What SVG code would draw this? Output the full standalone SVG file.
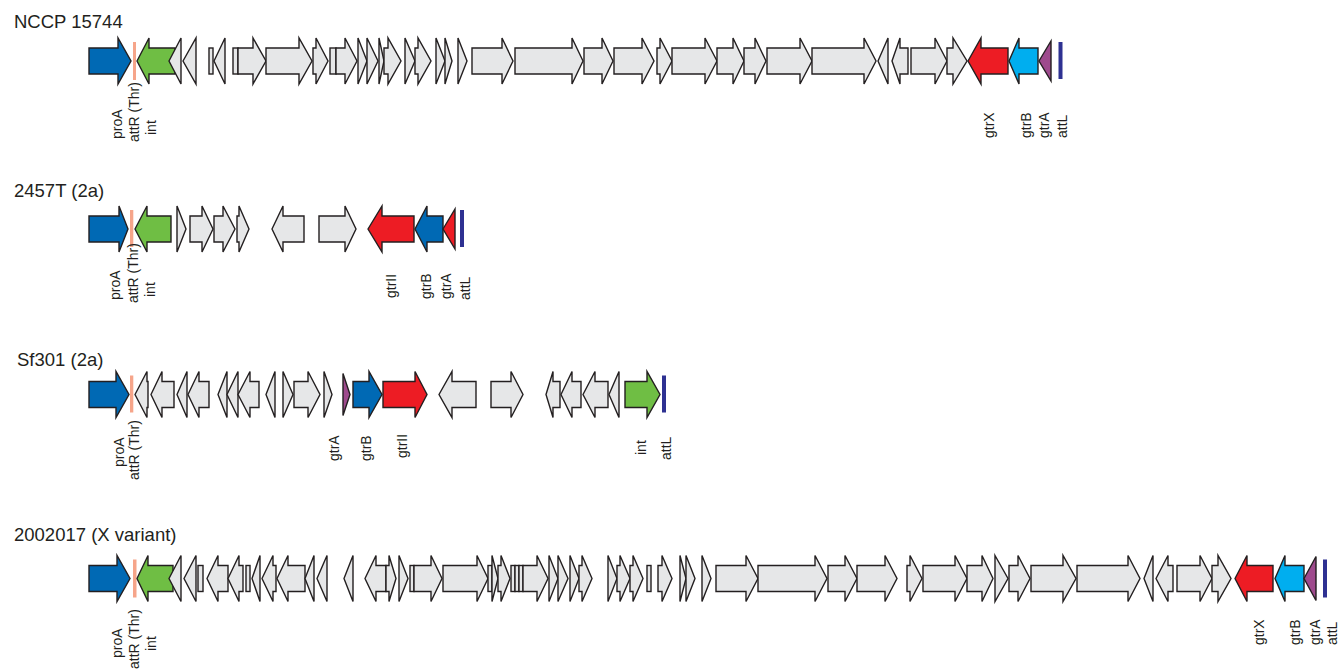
<svg xmlns="http://www.w3.org/2000/svg" width="1338" height="671" viewBox="0 0 1338 671">
<style>
  .g{fill:#e6e7e8;stroke:#231f20;stroke-width:1.4;stroke-linejoin:miter}
  .blue{fill:#0069b4;stroke:#231f20;stroke-width:1.4}
  .green{fill:#6fbe44;stroke:#231f20;stroke-width:1.4}
  .red{fill:#ed1c24;stroke:#231f20;stroke-width:1.4}
  .cyan{fill:#00aeef;stroke:#231f20;stroke-width:1.4}
  .purple{fill:#9e4a8d;stroke:#231f20;stroke-width:1.4}
  .att{fill:#f6a58a}
  .attl{fill:#2e3192}
  .title{font-family:"Liberation Sans",Arial,sans-serif;font-size:18.5px;fill:#231f20}
  .lab{font-family:"Liberation Sans",Arial,sans-serif;font-size:14px;fill:#231f20}
</style>

<!-- NCCP 15744 -->
<g id="nccp15744">
  <text class="title" x="14" y="28">NCCP 15744</text>
  <g transform="translate(0,61)">
    <polygon class="blue" points="89,-13 118,-13 118,-23 131,0 118,23 118,13 89,13"/>
    <rect class="att" x="133" y="-19" width="3" height="38"/>
    <polygon class="green" points="137,0 149,-23 149,-13 175,-13 175,13 149,13 149,23"/>
    <polygon class="g" points="169,0 181,-23 181,23"/>
    <polygon class="g" points="183,0 196,-23 196,23"/>
    <rect class="g" x="209" y="-13" width="4" height="26"/>
    <polygon class="g" points="214,0 225,-23 225,23"/>
    <rect class="g" x="233" y="-13" width="5" height="26"/>
    <polygon class="g" points="238,-13 253,-13 253,-23 266,0 253,23 253,13 238,13"/>
    <polygon class="g" points="266,-13 299,-13 299,-23 312,0 299,23 299,13 266,13"/>
    <polygon class="g" points="313,-13 316,-13 316,-23 328,0 316,23 316,13 313,13"/>
    <rect class="g" x="330" y="-13" width="6" height="26"/>
    <polygon class="g" points="336,-13 345,-13 345,-23 357,0 345,23 345,13 336,13"/>
    <polygon class="g" points="358,-23 367,0 358,23"/>
    <polygon class="g" points="367,-23 378,0 367,23"/>
    <polygon class="g" points="379,-23 384,0 379,23"/>
    <polygon class="g" points="384,-13 388,-13 388,-23 401,0 388,23 388,13 384,13"/>
    <polygon class="g" points="405,-23 415,0 405,23"/>
    <polygon class="g" points="415,-13 418,-13 418,-23 431,0 418,23 418,13 415,13"/>
    <polygon class="g" points="436,-23 445,0 436,23"/>
    <polygon class="g" points="445,-23 452,0 445,23"/>
    <polygon class="g" points="458,-23 467,0 458,23"/>
    <polygon class="g" points="472,-13 502,-13 502,-23 513,0 502,23 502,13 472,13"/>
    <polygon class="g" points="515,-13 572,-13 572,-23 583,0 572,23 572,13 515,13"/>
    <polygon class="g" points="584,-13 602,-13 602,-23 613,0 602,23 602,13 584,13"/>
    <polygon class="g" points="614,-13 642,-13 642,-23 654,0 642,23 642,13 614,13"/>
    <polygon class="g" points="657,-13 660,-13 660,-23 672,0 660,23 660,13 657,13"/>
    <polygon class="g" points="672,-13 705,-13 705,-23 717,0 705,23 705,13 672,13"/>
    <polygon class="g" points="717,-13 733,-13 733,-23 744,0 733,23 733,13 717,13"/>
    <polygon class="g" points="744,-13 755,-13 755,-23 766,0 755,23 755,13 744,13"/>
    <polygon class="g" points="767,-13 800,-13 800,-23 812,0 800,23 800,13 767,13"/>
    <polygon class="g" points="812,-13 864,-13 864,-23 876,0 864,23 864,13 812,13"/>
    <polygon class="g" points="878,0 888,-23 888,23"/>
    <polygon class="g" points="892,0 900,-23 900,-13 908,-13 908,13 900,13 900,23"/>
    <polygon class="g" points="911,-13 935,-13 935,-23 947,0 935,23 935,13 911,13"/>
    <polygon class="g" points="947,-13 953,-13 953,-23 967,0 953,23 953,13 947,13"/>
    <polygon class="red" points="968,0 981,-23 981,-13 1008,-13 1008,13 981,13 981,23"/>
    <polygon class="cyan" points="1009,0 1019,-23 1019,-13 1038,-13 1038,13 1019,13 1019,23"/>
    <polygon class="purple" points="1039,0 1051,-20 1051,20"/>
    <rect class="attl" x="1058.5" y="-19" width="4" height="37"/>
  </g>
  <text class="lab" transform="translate(122,139) rotate(-90)">proA</text>
  <text class="lab" transform="translate(139,142) rotate(-90)">attR (Thr)</text>
  <text class="lab" transform="translate(156,135) rotate(-90)">int</text>
  <text class="lab" transform="translate(994,138) rotate(-90)">gtrX</text>
  <text class="lab" transform="translate(1031,138) rotate(-90)">gtrB</text>
  <text class="lab" transform="translate(1049,138) rotate(-90)">gtrA</text>
  <text class="lab" transform="translate(1066.5,138) rotate(-90)">attL</text>
</g>

<!-- 2457T (2a) -->
<g id="strain2457T">
  <text class="title" x="14" y="197">2457T (2a)</text>
  <g transform="translate(0,229)">
    <polygon class="blue" points="89,-13 119,-13 119,-23 128,0 119,23 119,13 89,13"/>
    <rect class="att" x="130" y="-19" width="3.3" height="37"/>
    <polygon class="green" points="135,0 147,-23 147,-13 171,-13 171,13 147,13 147,23"/>
    <polygon class="g" points="177,-23 186,0 177,23"/>
    <polygon class="g" points="190,-13 202,-13 202,-23 213,0 202,23 202,13 190,13"/>
    <polygon class="g" points="214,-13 223,-13 223,-23 235,0 223,23 223,13 214,13"/>
    <polygon class="g" points="237,-13 239,-13 239,-23 249,0 239,23 239,13 237,13"/>
    <polygon class="g" points="272,0 283,-23 283,-13 304,-13 304,13 283,13 283,23"/>
    <polygon class="g" points="319,-13 345,-13 345,-23 356,0 345,23 345,13 319,13"/>
    <polygon class="red" points="368,0 382,-23 382,-13 414,-13 414,13 382,13 382,23"/>
    <polygon class="blue" points="415,0 427,-23 427,-13 443,-13 443,13 427,13 427,23"/>
    <polygon class="red" points="443,0 455,-20 455,20"/>
    <rect class="attl" x="460" y="-19" width="4" height="37"/>
  </g>
  <text class="lab" transform="translate(120,300) rotate(-90)">proA</text>
  <text class="lab" transform="translate(138,303) rotate(-90)">attR (Thr)</text>
  <text class="lab" transform="translate(155,297) rotate(-90)">int</text>
  <text class="lab" transform="translate(396,298) rotate(-90)">gtrII</text>
  <text class="lab" transform="translate(431,299) rotate(-90)">gtrB</text>
  <text class="lab" transform="translate(451,299) rotate(-90)">gtrA</text>
  <text class="lab" transform="translate(469.5,300) rotate(-90)">attL</text>
</g>

<!-- Sf301 (2a) -->
<g id="sf301">
  <text class="title" x="17" y="366">Sf301 (2a)</text>
  <g transform="translate(0,394.5)">
    <polygon class="blue" points="89,-13 116,-13 116,-23 129,0 116,23 116,13 89,13"/>
    <rect class="att" x="130" y="-19" width="3.3" height="37"/>
    <polygon class="g" points="135,0 147,-23 147,-13 148,-13 148,13 147,13 147,23"/>
    <polygon class="g" points="151,0 162,-23 162,-13 174,-13 174,13 162,13 162,23"/>
    <polygon class="g" points="177,0 187,-23 187,23"/>
    <polygon class="g" points="188,0 199,-23 199,-13 209,-13 209,13 199,13 199,23"/>
    <polygon class="g" points="218,0 227,-23 227,23"/>
    <polygon class="g" points="227,0 238,-23 238,23"/>
    <polygon class="g" points="238,0 250,-23 250,-13 259,-13 259,13 250,13 250,23"/>
    <polygon class="g" points="266,0 275,-23 275,23"/>
    <polygon class="g" points="283,-23 293,0 283,23"/>
    <polygon class="g" points="294,-13 308,-13 308,-23 320,0 308,23 308,13 294,13"/>
    <polygon class="g" points="324,-23 332,0 324,23"/>
    <polygon class="purple" points="343,-21 350,0 343,21"/>
    <polygon class="blue" points="353,-13 369,-13 369,-23 382,0 369,23 369,13 353,13"/>
    <polygon class="red" points="383,-13 415,-13 415,-23 427,0 415,23 415,13 383,13"/>
    <polygon class="g" points="439,0 452,-23 452,-13 476,-13 476,13 452,13 452,23"/>
    <polygon class="g" points="491,-13 511,-13 511,-23 523,0 511,23 511,13 491,13"/>
    <polygon class="g" points="546,0 553,-23 553,-13 560,-13 560,13 553,13 553,23"/>
    <polygon class="g" points="561,0 572,-23 572,-13 581,-13 581,13 572,13 572,23"/>
    <polygon class="g" points="583,0 595,-23 595,-13 608,-13 608,13 595,13 595,23"/>
    <polygon class="g" points="609,0 619,-23 619,23"/>
    <polygon class="green" points="625,-13 647,-13 647,-23 660,0 647,23 647,13 625,13"/>
    <rect class="attl" x="662" y="-19" width="4" height="37"/>
  </g>
  <text class="lab" transform="translate(124,467) rotate(-90)">proA</text>
  <text class="lab" transform="translate(139,480) rotate(-90)">attR (Thr)</text>
  <text class="lab" transform="translate(339,461) rotate(-90)">gtrA</text>
  <text class="lab" transform="translate(371,461) rotate(-90)">gtrB</text>
  <text class="lab" transform="translate(407,458) rotate(-90)">gtrII</text>
  <text class="lab" transform="translate(646,455) rotate(-90)">int</text>
  <text class="lab" transform="translate(671,460) rotate(-90)">attL</text>
</g>

<!-- 2002017 (X variant) -->
<g id="strain2002017">
  <text class="title" x="14" y="541">2002017 (X variant)</text>
  <g transform="translate(0,578.5)">
    <polygon class="blue" points="89,-13 117,-13 117,-23 130,0 117,23 117,13 89,13"/>
    <rect class="att" x="133" y="-19" width="3.5" height="38"/>
    <polygon class="green" points="137,0 148,-23 148,-13 173,-13 173,13 148,13 148,23"/>
    <polygon class="g" points="169,0 181,-23 181,23"/>
    <polygon class="g" points="184,0 196,-23 196,23"/>
    <rect class="g" x="198" y="-13" width="5" height="26"/>
    <polygon class="g" points="207,0 218,-23 218,-13 228,-13 228,13 218,13 218,23"/>
    <polygon class="g" points="228,0 239,-23 239,-13 243,-13 243,13 239,13 239,23"/>
    <rect class="g" x="246" y="-13" width="4" height="26"/>
    <polygon class="g" points="252,0 260,-23 260,23"/>
    <polygon class="g" points="262,0 273,-23 273,-13 276,-13 276,13 273,13 273,23"/>
    <polygon class="g" points="277,0 288,-23 288,-13 305,-13 305,13 288,13 288,23"/>
    <polygon class="g" points="305,0 314,-23 314,23"/>
    <polygon class="g" points="317,0 327,-23 327,23"/>
    <polygon class="g" points="344,0 353,-23 353,23"/>
    <polygon class="g" points="365,0 376,-23 376,-13 386,-13 386,13 376,13 376,23"/>
    <polygon class="g" points="386,-13 389,-13 389,-23 396,0 389,23 389,13 386,13"/>
    <polygon class="g" points="399,-23 408,0 399,23"/>
    <rect class="g" x="410" y="-13" width="4" height="26"/>
    <polygon class="g" points="414,-13 431,-13 431,-23 442,0 431,23 431,13 414,13"/>
    <polygon class="g" points="443,-13 477,-13 477,-23 488,0 477,23 477,13 443,13"/>
    <rect class="g" x="488" y="-13" width="4" height="26"/>
    <polygon class="g" points="492,-23 498,0 492,23"/>
    <polygon class="g" points="498,-13 501,-13 501,-23 510,0 501,23 501,13 498,13"/>
    <rect class="g" x="511" y="-13" width="4" height="26"/>
    <rect class="g" x="515" y="-13" width="4" height="26"/>
    <rect class="g" x="519" y="-13" width="4" height="26"/>
    <polygon class="g" points="523,-13 537,-13 537,-23 548,0 537,23 537,13 523,13"/>
    <polygon class="g" points="549,-23 558,0 549,23"/>
    <polygon class="g" points="558,-23 568,0 558,23"/>
    <polygon class="g" points="570,-23 579,0 570,23"/>
    <polygon class="g" points="579,-13 582,-13 582,-23 592,0 582,23 582,13 579,13"/>
    <polygon class="g" points="608,-23 617,0 608,23"/>
    <polygon class="g" points="617,-13 620,-13 620,-23 630,0 620,23 620,13 617,13"/>
    <polygon class="g" points="630,-13 633,-13 633,-23 643,0 633,23 633,13 630,13"/>
    <rect class="g" x="647" y="-13" width="4" height="26"/>
    <polygon class="g" points="658,-13 662,-13 662,-23 672,0 662,23 662,13 658,13"/>
    <polygon class="g" points="680,-23 686,0 680,23"/>
    <polygon class="g" points="686,-23 695,0 686,23"/>
    <polygon class="g" points="702,-23 711,0 702,23"/>
    <polygon class="g" points="716,-13 746,-13 746,-23 758,0 746,23 746,13 716,13"/>
    <polygon class="g" points="758,-13 815,-13 815,-23 827,0 815,23 815,13 758,13"/>
    <polygon class="g" points="828,-13 845,-13 845,-23 857,0 845,23 845,13 828,13"/>
    <polygon class="g" points="857,-13 885,-13 885,-23 897,0 885,23 885,13 857,13"/>
    <polygon class="g" points="907,-13 910,-13 910,-23 922,0 910,23 910,13 907,13"/>
    <polygon class="g" points="923,-13 955,-13 955,-23 967,0 955,23 955,13 923,13"/>
    <polygon class="g" points="967,-13 982,-13 982,-23 993,0 982,23 982,13 967,13"/>
    <polygon class="g" points="995,-23 1008,0 995,23"/>
    <polygon class="g" points="1009,-13 1018,-13 1018,-23 1030,0 1018,23 1018,13 1009,13"/>
    <polygon class="g" points="1031,-13 1063,-13 1063,-23 1076,0 1063,23 1063,13 1031,13"/>
    <polygon class="g" points="1077,-13 1128,-13 1128,-23 1140,0 1128,23 1128,13 1077,13"/>
    <polygon class="g" points="1144,0 1153,-23 1153,23"/>
    <polygon class="g" points="1156,0 1168,-23 1168,-13 1173,-13 1173,13 1168,13 1168,23"/>
    <polygon class="g" points="1177,-13 1200,-13 1200,-23 1212,0 1200,23 1200,13 1177,13"/>
    <polygon class="g" points="1212,-13 1218,-13 1218,-23 1231,0 1218,23 1218,13 1212,13"/>
    <polygon class="red" points="1235,0 1247,-23 1247,-13 1273,-13 1273,13 1247,13 1247,23"/>
    <polygon class="cyan" points="1275,0 1285,-23 1285,-13 1304,-13 1304,13 1285,13 1285,23"/>
    <polygon class="purple" points="1304,0 1316,-22 1316,22"/>
    <rect class="attl" x="1323" y="-19" width="4" height="38"/>
  </g>
  <text class="lab" transform="translate(122,658) rotate(-90)">proA</text>
  <text class="lab" transform="translate(139,669) rotate(-90)">attR (Thr)</text>
  <text class="lab" transform="translate(156,651) rotate(-90)">int</text>
  <text class="lab" transform="translate(1264,645) rotate(-90)">gtrX</text>
  <text class="lab" transform="translate(1300,645) rotate(-90)">gtrB</text>
  <text class="lab" transform="translate(1320,645) rotate(-90)">gtrA</text>
  <text class="lab" transform="translate(1337,645) rotate(-90)">attL</text>
</g>
</svg>
